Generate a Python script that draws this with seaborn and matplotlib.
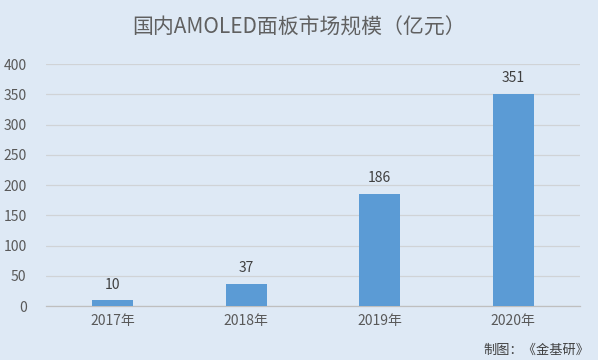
import matplotlib
matplotlib.use("Agg")
import matplotlib.pyplot as plt
import seaborn as sns
import pandas as pd

categories = ["2017年", "2018年", "2019年", "2020年"]
values = [10, 37, 186, 351]
yticks = [0, 50, 100, 150, 200, 250, 300, 350, 400]
title = "国内AMOLED面板市场规模（亿元）"
source = "制图：《金基研》"

sns.set_theme(style="white")
plt.rcParams['font.family'] = ['Noto Sans CJK SC', 'DejaVu Sans']

bg = "#DEE9F5"
txt = "#595959"
fig = plt.figure(figsize=(5.98, 3.6), dpi=100, facecolor=bg)
ax = fig.add_axes([0.077, 0.15, 0.893, 0.672])
ax.set_facecolor(bg)

df = pd.DataFrame({"year": categories, "value": values})
sns.barplot(data=df, x="year", y="value", color="#5B9BD5", saturation=1,
            width=0.31, ax=ax, zorder=3, linewidth=0, edgecolor="none")

ax.set_ylim(0, 400)
ax.set_yticks(yticks)
ax.set_xlim(-0.5, 3.5)
ax.yaxis.grid(True, color="#D0D3D6", linewidth=0.9, zorder=0)
ax.set_axisbelow(True)
for s in ["top", "right", "left"]:
    ax.spines[s].set_visible(False)
ax.spines["bottom"].set_color("#BFBFBF")
ax.spines["bottom"].set_linewidth(0.9)
ax.set_xlabel("")
ax.set_ylabel("")
ax.tick_params(axis="both", length=0, labelsize=10, colors=txt, pad=6)
ax.tick_params(axis="y", pad=14)

for i, v in enumerate(values):
    ax.annotate(str(v), (i, v), xytext=(0, 6), textcoords="offset points",
                ha="center", va="bottom", fontsize=10, color="#404040")

fig.text(0.5, 0.922, title, ha="center", va="center", fontsize=15, color="#606060")
fig.text(0.985, 0.028, source, ha="right", va="center", fontsize=9.5, color="#404040")

fig.savefig("out.png", dpi=100, facecolor=bg)
